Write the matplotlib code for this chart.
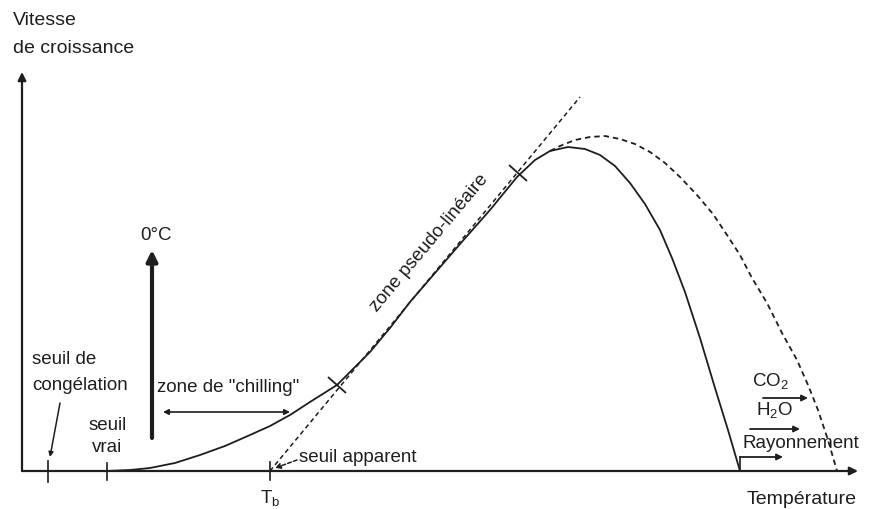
import matplotlib
matplotlib.use("Agg")
import matplotlib.pyplot as plt
from matplotlib.markers import MarkerStyle
from matplotlib.transforms import Affine2D

plt.rcParams['font.family'] = ['Liberation Sans', 'DejaVu Sans']
plt.rcParams['mathtext.fontset'] = 'custom'
plt.rcParams['mathtext.rm'] = 'Liberation Sans'
plt.rcParams['mathtext.it'] = 'Liberation Sans'

# schematic units: temperature along x, growth rate along y
growth_temp = [85, 108, 128, 153, 178, 203, 228, 248, 268, 288, 315, 333, 348, 368,
               388, 413, 438, 468, 495, 513, 528, 546, 563, 578, 593, 608, 623, 638,
               650, 663, 678, 693, 706, 718]
growth_rate = [0, 1, 3, 8, 16, 25, 36, 45, 56, 69, 86, 104, 119, 143,
               169, 198, 227, 261, 294, 311, 320, 324, 322, 316, 305, 288, 267, 241,
               213, 179, 133, 83, 41, 0]

# shifted curve (dashed) for CO2 / H2O / radiation
shift_temp = [528, 538, 553, 568, 583, 598, 613, 628, 643, 658, 675, 691, 705, 718,
              730, 745, 760, 775, 786, 796, 806, 815]
shift_rate = [320, 325, 331, 334, 335, 332, 327, 319, 308, 294, 276, 257, 236, 216,
              193, 168, 138, 111, 86, 61, 31, 0]

# tangent of the pseudo-linear zone
tangent_temp = [248, 558]
tangent_rate = [0, 374]

# thresholds on the temperature axis
t_congel = 26
t_vrai = 85
t_base = 248
t_max = 718

col = '#1e1e1e'

fig = plt.figure(figsize=(8.81, 5.09), dpi=100)
ax = fig.add_axes([0, 0, 1, 1])
ax.set_xlim(-22, 859)
ax.set_ylim(-38, 471)
ax.axis('off')

# axes with arrows
ax.annotate('', xy=(836, 0), xytext=(0, 0),
            arrowprops=dict(arrowstyle='-|>', lw=1.6, color=col, mutation_scale=12,
                            shrinkA=0, shrinkB=0))
ax.annotate('', xy=(0, 399), xytext=(0, 0),
            arrowprops=dict(arrowstyle='-|>', lw=1.6, color=col, mutation_scale=12,
                            shrinkA=0, shrinkB=0))

ax.plot(growth_temp, growth_rate, color=col, lw=1.3, solid_capstyle='round')
ax.plot(shift_temp, shift_rate, color=col, lw=1.3, ls=(0, (3, 2.2)))
ax.plot(tangent_temp, tangent_rate, color=col, lw=1.1, ls=(0, (3, 2.2)))

# small ticks across the curve delimiting the pseudo-linear zone
for xt, yt, ang in [(315, 86, -42), (496, 298, -40)]:
    m = MarkerStyle('_', transform=Affine2D().rotate_deg(ang))
    ax.plot([xt], [yt], marker=m, ms=17, mew=1.3, color=col)

# ticks on the temperature axis
for xt, lo, hi in [(t_congel, -11, 10), (t_vrai, -9, 8), (t_base, -9, 9), (t_max, 0, 14)]:
    ax.plot([xt, xt], [lo, hi], color=col, lw=1.2)

fs = 13.5
ax.text(-9, 451, 'Vitesse', fontsize=14, color=col, va='center', ha='left')
ax.text(-9, 423, 'de croissance', fontsize=14, color=col, va='center', ha='left')
ax.text(835, -29, 'Température', fontsize=14, color=col, va='center', ha='right')
ax.text(t_base, -27, r'T$_\mathrm{b}$', fontsize=fs, color=col, va='center', ha='center')

ax.text(10, 111, 'seuil de', fontsize=fs, color=col, va='center', ha='left')
ax.text(10, 86, 'congélation', fontsize=fs, color=col, va='center', ha='left')
ax.annotate('', xy=(t_congel + 2, 14), xytext=(38, 68),
            arrowprops=dict(arrowstyle='-|>', lw=1.1, color=col, mutation_scale=7,
                            shrinkA=0, shrinkB=0))

ax.text(t_vrai + 1, 45, 'seuil', fontsize=fs, color=col, va='center', ha='center')
ax.text(t_vrai, 23, 'vrai', fontsize=fs, color=col, va='center', ha='center')

# 0 degC arrow
ax.annotate('', xy=(130, 221), xytext=(130, 33),
            arrowprops=dict(arrowstyle='-|>', lw=3, color=col, mutation_scale=16,
                            shrinkA=0, shrinkB=0))
ax.text(134, 236, '0°C', fontsize=fs, color=col, va='center', ha='center')

# chilling zone
ax.annotate('', xy=(268, 59), xytext=(141, 59),
            arrowprops=dict(arrowstyle='<|-|>', lw=1.2, color=col, mutation_scale=8,
                            shrinkA=0, shrinkB=0))
ax.text(135, 83, 'zone de "chilling"', fontsize=fs, color=col, va='center', ha='left')

# apparent threshold
ax.annotate('', xy=(253, 3), xytext=(275, 11),
            arrowprops=dict(arrowstyle='-|>', lw=1.1, color=col, mutation_scale=8,
                            ls=(0, (2.5, 1.5)), shrinkA=0, shrinkB=0))
ax.text(277, 13, 'seuil apparent', fontsize=fs, color=col, va='center', ha='left')

ax.text(407, 228, 'zone pseudo-linéaire', fontsize=fs, color=col, va='center',
        ha='center', rotation=50, rotation_mode='anchor')

# shifts to the right
ax.text(748, 90, r'CO$_2$', fontsize=fs, color=col, va='center', ha='center')
ax.annotate('', xy=(786, 73), xytext=(741, 73),
            arrowprops=dict(arrowstyle='-|>', lw=1.3, color=col, mutation_scale=9,
                            shrinkA=0, shrinkB=0))
ax.text(753, 61, r'H$_2$O', fontsize=fs, color=col, va='center', ha='center')
ax.annotate('', xy=(778, 42), xytext=(728, 42),
            arrowprops=dict(arrowstyle='-|>', lw=1.3, color=col, mutation_scale=9,
                            shrinkA=0, shrinkB=0))
ax.text(720, 27, 'Rayonnement', fontsize=fs, color=col, va='center', ha='left')
ax.annotate('', xy=(761, 14), xytext=(718, 14),
            arrowprops=dict(arrowstyle='-|>', lw=1.3, color=col, mutation_scale=9,
                            shrinkA=0, shrinkB=0))

fig.savefig('out.png', dpi=100)
